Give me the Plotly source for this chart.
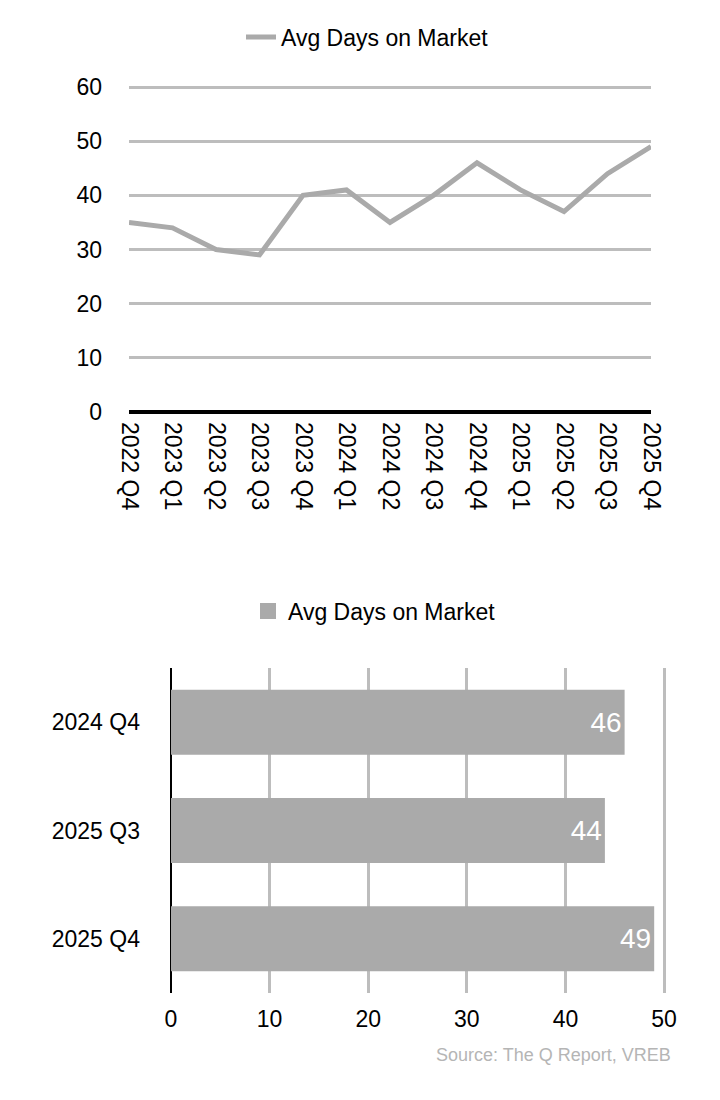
import plotly.graph_objects as go

# ---- data ----
quarters = ["2022 Q4", "2023 Q1", "2023 Q2", "2023 Q3", "2023 Q4", "2024 Q1", "2024 Q2",
            "2024 Q3", "2024 Q4", "2025 Q1", "2025 Q2", "2025 Q3", "2025 Q4"]
avg_days = [35, 34, 30, 29, 40, 41, 35, 40, 46, 41, 37, 44, 49]

bar_quarters = ["2024 Q4", "2025 Q3", "2025 Q4"]
bar_days = [46, 44, 49]

series_name = "Avg Days on Market"
source_text = "Source: The Q Report, VREB"

W, H = 720, 1100
OFF = 8  # page body margin in the browser
FONT = "Liberation Sans, Arial, Helvetica, sans-serif"
GREY = "#aaaaaa"
GRID = "#bdbdbd"


def fx(p):
    return (p - OFF) / W


def fy(p):
    return 1 - (p - OFF) / H


fig = go.Figure()

fig.add_trace(go.Scatter(
    x=quarters, y=avg_days, mode="lines", name=series_name,
    line=dict(color=GREY, width=5),
    xaxis="x", yaxis="y", legend="legend", showlegend=True,
))

fig.add_trace(go.Bar(
    x=bar_days, y=bar_quarters, orientation="h", name=series_name,
    marker=dict(color=GREY, line=dict(width=0)),
    text=bar_days, textposition="inside", insidetextanchor="end",
    textangle=0, textfont=dict(color="white", size=28, family=FONT),
    xaxis="x2", yaxis="y2", showlegend=False,
))

# legend proxy for the bar series (larger square swatch)
fig.add_trace(go.Scatter(
    x=[None], y=[None], mode="markers", name=series_name,
    marker=dict(symbol="square", size=22, color=GREY),
    xaxis="x2", yaxis="y2", legend="legend2", showlegend=True,
))

fig.update_layout(
    width=W, height=H,
    template="none",
    showlegend=True,
    margin=dict(l=0, r=0, t=0, b=0, autoexpand=False),
    paper_bgcolor="white", plot_bgcolor="white",
    font=dict(family=FONT, size=23, color="black"),
    bargap=0.4,
    xaxis=dict(
        domain=[fx(129), fx(651)], anchor="y", type="category",
        range=[0, 12], showgrid=False, zeroline=False, showline=False,
        tickangle=90, ticks="", ticklabelstandoff=9, automargin=False,
        tickfont=dict(size=23),
    ),
    yaxis=dict(
        domain=[fy(412), fy(84.3)], anchor="x", range=[0, 60.5],
        tickvals=[0, 10, 20, 30, 40, 50, 60],
        showgrid=True, gridcolor=GRID, gridwidth=2.5,
        zeroline=True, zerolinecolor="black", zerolinewidth=3.5,
        showline=False, ticks="", ticklabelstandoff=26, automargin=False,
        tickfont=dict(size=23),
    ),
    xaxis2=dict(
        domain=[fx(171), fx(668)], anchor="y2", range=[0, 50.4],
        tickvals=[0, 10, 20, 30, 40, 50],
        showgrid=True, gridcolor=GRID, gridwidth=2.5,
        zeroline=True, zerolinecolor="black", zerolinewidth=2,
        showline=False, ticks="", ticklabelstandoff=10, automargin=False,
        tickfont=dict(size=23),
    ),
    yaxis2=dict(
        domain=[fy(993), fy(668)], anchor="x2", type="category",
        categoryorder="array", categoryarray=bar_quarters, autorange="reversed",
        showgrid=False, zeroline=False, showline=False, ticks="",
        ticklabelstandoff=30, automargin=False, tickfont=dict(size=23),
    ),
    legend=dict(
        orientation="h", x=fx(241), y=fy(37), xanchor="left", yanchor="middle",
        font=dict(size=23), bgcolor="rgba(0,0,0,0)",
    ),
    legend2=dict(
        orientation="h", x=fx(248), y=fy(611), xanchor="left", yanchor="middle",
        font=dict(size=23), bgcolor="rgba(0,0,0,0)",
    ),
    annotations=[dict(
        text=source_text, xref="paper", yref="paper",
        x=fx(673), y=fy(1055), xanchor="right", yanchor="middle",
        showarrow=False, font=dict(size=18, color="#b5b5b5"),
    )],
)

fig.write_html("out.html")
